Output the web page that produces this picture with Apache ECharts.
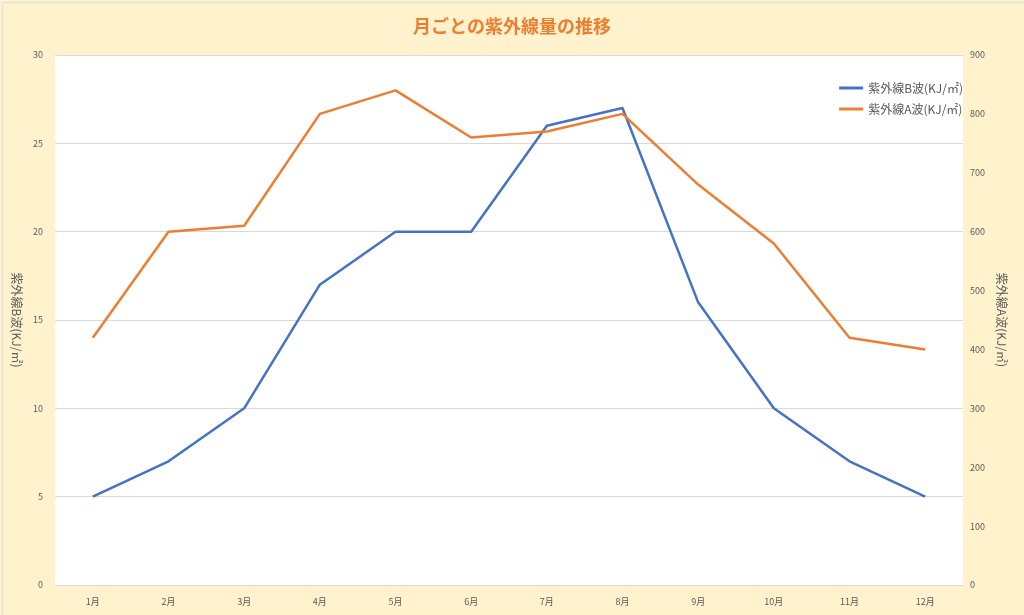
<!DOCTYPE html>
<html><head><meta charset="utf-8">
<script src="https://cdn.jsdelivr.net/npm/echarts@6/dist/echarts.min.js"></script>
<style>html,body{margin:0;padding:0;background:#FFF2CC;}#c{width:1024px;height:615px;}</style>
</head><body><div id="c"></div>
<script>
const categories = ['1月','2月','3月','4月','5月','6月','7月','8月','9月','10月','11月','12月'];
const uvB = [5,7,10,17,20,20,26,27,16,10,7,5];
const uvA = [420,600,610,800,840,760,770,800,680,580,420,400];
const nameB = '紫外線B波(KJ/㎡)';
const nameA = '紫外線A波(KJ/㎡)';
const font = '"Noto Sans CJK JP", sans-serif';
const chart = echarts.init(document.getElementById('c'));
chart.setOption({
  backgroundColor: '#FFF2CC',
  animation: false,
  textStyle: {fontFamily: font},
  graphic: [{type: 'rect', left: 0, top: 0, shape: {x: 0.5, y: 0.5, width: 1023, height: 614},
    style: {fill: 'none', stroke: '#E2E2E2', lineWidth: 1.5}, silent: true}],
  title: {text: '月ごとの紫外線量の推移', left: 'center', top: 12,
    textStyle: {color: '#ED7D31', fontSize: 18, fontWeight: 'bold', fontFamily: font}},
  legend: {orient: 'vertical', right: 56, top: 77, itemWidth: 24, itemHeight: 3, itemGap: 9,
    icon: 'rect', textStyle: {color: '#595959', fontSize: 12, fontFamily: font},
    data: [nameB, nameA]},
  grid: {left: 55, right: 61, top: 55, bottom: 30, show: true, backgroundColor: '#FFFFFF', borderWidth: 0},
  xAxis: {type: 'category', data: categories, boundaryGap: true,
    axisLine: {show: true, lineStyle: {color: '#D9D9D9'}}, axisTick: {show: false},
    axisLabel: {color: '#595959', fontSize: 9, margin: 12}},
  yAxis: [
    {type: 'value', min: 0, max: 30, interval: 5, name: nameB, nameLocation: 'middle', nameRotate: -90, nameGap: 25,
     nameTextStyle: {color: '#595959', fontSize: 12},
     axisLabel: {color: '#595959', fontSize: 9, margin: 12},
     splitLine: {lineStyle: {color: '#D9D9D9'}}, axisLine: {show: false}, axisTick: {show: false}},
    {type: 'value', min: 0, max: 900, interval: 100, name: nameA, nameLocation: 'middle', nameRotate: -90, nameGap: 30,
     nameTextStyle: {color: '#595959', fontSize: 12},
     axisLabel: {color: '#595959', fontSize: 9, margin: 7},
     splitLine: {show: false}, axisLine: {show: false}, axisTick: {show: false}}
  ],
  series: [
    {name: nameB, type: 'line', data: uvB, yAxisIndex: 0, symbol: 'none',
     lineStyle: {color: '#4472C4', width: 2.5}, itemStyle: {color: '#4472C4'}},
    {name: nameA, type: 'line', data: uvA, yAxisIndex: 1, symbol: 'none',
     lineStyle: {color: '#ED7D31', width: 2.5}, itemStyle: {color: '#ED7D31'}}
  ]
});
</script></body></html>
